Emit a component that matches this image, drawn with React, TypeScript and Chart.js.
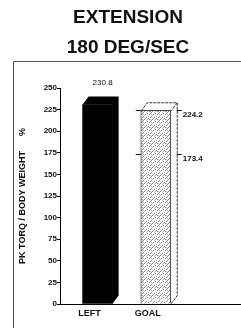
import React, { useEffect, useRef } from "react";
import { Chart, registerables } from "chart.js";

Chart.register(...registerables);

const categories = ["LEFT", "GOAL"];
const values = [230.8, 224.2];
const valueLabels = ["230.8", ""];
const goalRange = [173.4, 224.2];
const goalLabels = ["173.4", "224.2"];
const yMin = 0;
const yMax = 250;
const yStep = 25;
const titleLines = ["EXTENSION", "180 DEG/SEC"];
const yTitle = "PK TORQ / BODY WEIGHT      %";

const FONT = '"Liberation Sans", Arial, sans-serif';

function makePattern(ctx: CanvasRenderingContext2D) {
  const c = document.createElement("canvas");
  c.width = 8;
  c.height = 8;
  const p = c.getContext("2d")!;
  p.fillStyle = "#ffffff";
  p.fillRect(0, 0, 8, 8);
  p.fillStyle = "#8a8a8a";
  const dots = [
    [0, 7], [1, 6], [2, 5], [5, 2], [6, 1], [7, 0],
    [4, 6], [3, 1], [6, 5], [1, 2], [5, 7], [7, 4],
  ];
  dots.forEach(([x, y]) => p.fillRect(x, y, 1, 1));
  p.fillStyle = "#b5b5b5";
  [[2, 0], [0, 3], [4, 4], [3, 7], [7, 2], [6, 7]].forEach(([x, y]) => p.fillRect(x, y, 1, 1));
  return ctx.createPattern(c, "repeat")!;
}

const DX = 6;
const DY = -8;

const depthPlugin = {
  id: "depth3d",
  beforeDraw(chart: any) {
    const ctx = chart.ctx as CanvasRenderingContext2D;
    ctx.save();
    ctx.strokeStyle = "#555";
    ctx.lineWidth = 1;
    ctx.beginPath();
    ctx.moveTo(13.5, chart.height + 5);
    ctx.lineTo(13.5, 61.5);
    ctx.lineTo(chart.width + 5, 61.5);
    ctx.stroke();
    ctx.restore();
  },
  afterDatasetsDraw(chart: any) {
    const ctx = chart.ctx as CanvasRenderingContext2D;
    const meta = chart.getDatasetMeta(0);
    const yScale = chart.scales.y;
    ctx.save();
    meta.data.forEach((el: any, i: number) => {
      const { x, y, base, width } = el.getProps(["x", "y", "base", "width"], true);
      const l = x - width / 2;
      const r = x + width / 2;
      if (i === 0) {
        ctx.fillStyle = "#000";
        ctx.beginPath();
        ctx.moveTo(l, y);
        ctx.lineTo(l + DX, y + DY);
        ctx.lineTo(r + DX, y + DY);
        ctx.lineTo(r + DX, base + DY);
        ctx.lineTo(r, base);
        ctx.lineTo(r, y);
        ctx.closePath();
        ctx.fill();
      } else {
        ctx.strokeStyle = "#333";
        ctx.lineWidth = 1;
        ctx.setLineDash([3, 1]);
        ctx.beginPath();
        ctx.moveTo(l + 0.5, y + 0.5);
        ctx.lineTo(l + DX + 0.5, y + DY + 0.5);
        ctx.lineTo(r + DX + 0.5, y + DY + 0.5);
        ctx.lineTo(r + 0.5, y + 0.5);
        ctx.moveTo(r + DX + 0.5, y + DY + 0.5);
        ctx.lineTo(r + DX + 0.5, base + DY);
        ctx.lineTo(r + 0.5, base);
        ctx.stroke();
        ctx.setLineDash([]);
        ctx.strokeStyle = "#111";
        ctx.lineWidth = 1;
        goalRange.forEach((v, k) => {
          const py = Math.round(yScale.getPixelForValue(v)) + 0.5;
          ctx.beginPath();
          ctx.moveTo(l - 5, py);
          ctx.lineTo(l, py);
          ctx.moveTo(r + DX, py);
          ctx.lineTo(r + DX + 5, py);
          ctx.stroke();
          ctx.fillStyle = "#111";
          ctx.font = `bold 8px ${FONT}`;
          ctx.textAlign = "left";
          ctx.textBaseline = "middle";
          ctx.fillText(goalLabels[k], r + DX + 6, py + 4);
        });
      }
      if (valueLabels[i]) {
        ctx.fillStyle = "#111";
        ctx.font = `8px ${FONT}`;
        ctx.textAlign = "center";
        ctx.textBaseline = "middle";
        ctx.fillText(valueLabels[i], x + DX / 2 + 2, y + DY - 14);
      }
    });
    ctx.restore();
  },
};

export default function App() {
  const ref = useRef<HTMLCanvasElement>(null);
  useEffect(() => {
    const canvas = ref.current!;
    const ctx = canvas.getContext("2d")!;
    const pattern = makePattern(ctx);
    const chart = new Chart(canvas, {
      type: "bar",
      data: {
        datasets: [
          {
            data: values.map((v, i) => ({ x: i, y: v })),
            backgroundColor: ["#000000", pattern as any],
            borderColor: ["#000000", "#444444"],
            borderWidth: [0, 1],
            barThickness: 30,
          },
        ],
      },
      options: {
        responsive: false,
        animation: false,
        devicePixelRatio: 1,
        layout: { padding: { top: 88, left: 0, right: 0, bottom: 0 } },
        plugins: {
          legend: { display: false },
          tooltip: { enabled: false },
          title: { display: false },
        },
        scales: {
          x: {
            type: "linear",
            offset: false,
            min: -0.647,
            max: 2.466,
            afterFit: (s: any) => {
              s.height = 24;
            },
            afterBuildTicks: (s: any) => {
              s.ticks = categories.map((_, i) => ({ value: i }));
            },
            grid: { display: false, drawTicks: false, offset: false },
            border: { display: true, color: "#000", width: 1 },
            ticks: {
              autoSkip: false,
              maxRotation: 0,
              padding: 4,
              labelOffset: -8,
              color: "#111",
              font: { family: FONT, size: 9, weight: "bold" },
              callback: (v: any) => (categories[v] !== undefined ? categories[v] : ""),
            },
          },
          y: {
            min: yMin,
            max: yMax,
            afterFit: (s: any) => {
              s.width = 60;
            },
            grid: {
              drawOnChartArea: false,
              drawTicks: true,
              tickLength: 3,
              tickColor: "#000",
            },
            border: { display: true, color: "#000", width: 1 },
            ticks: {
              stepSize: yStep,
              padding: 0,
              color: "#111",
              font: { family: FONT, size: 8, weight: "bold" },
            },
            title: {
              display: true,
              text: yTitle,
              color: "#111",
              padding: { top: 17, bottom: 0 },
              font: { family: FONT, size: 9, weight: "bold" },
            },
          },
        },
      },
      plugins: [depthPlugin],
    });
    return () => chart.destroy();
  }, []);

  return (
    <div style={{ position: "fixed", left: 0, top: 0, width: 241, height: 328, background: "#fff", overflow: "hidden" }}>
      <canvas ref={ref} width={241} height={328} style={{ position: "absolute", left: 0, top: 0, width: 241, height: 328 }} />
      <div
        style={{
          position: "absolute",
          left: 0,
          top: 2,
          width: 256,
          textAlign: "center",
          fontFamily: FONT,
          fontWeight: "bold",
          fontSize: 19,
          lineHeight: "30px",
          color: "#111",
        }}
      >
        {titleLines.map((t) => (
          <div key={t}>{t}</div>
        ))}
      </div>
    </div>
  );
}
